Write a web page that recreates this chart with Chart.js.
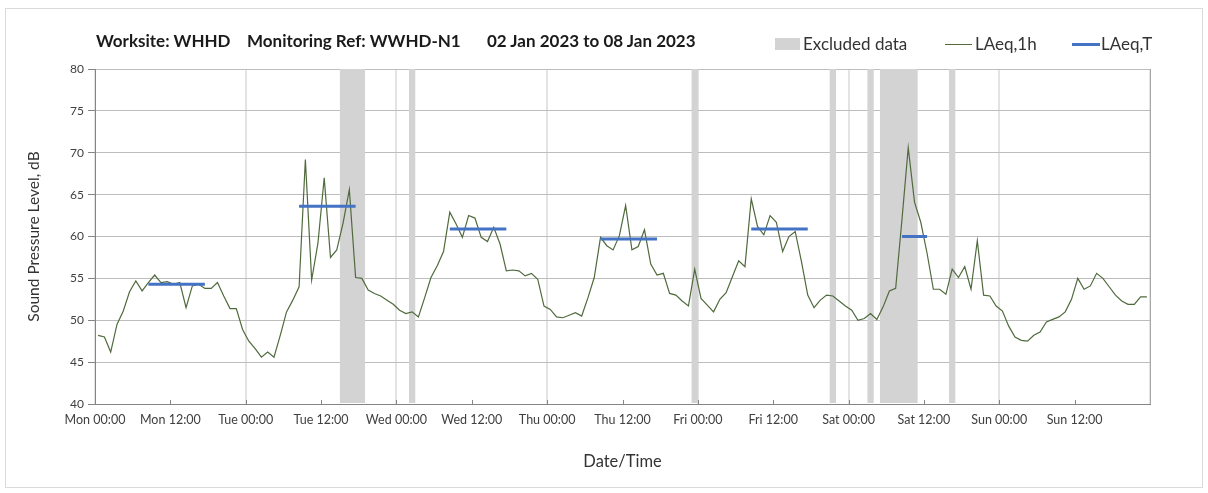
<!DOCTYPE html>
<html>
<head>
<meta charset="utf-8">
<title>WHHD noise monitoring</title>
<script src="https://cdn.jsdelivr.net/npm/chart.js@4.4.1/dist/chart.umd.min.js"></script>
<style>
  html, body { margin: 0; padding: 0; background: #fff; }
  body { width: 1208px; height: 493px; position: relative; overflow: hidden; font-family: Lato, "Open Sans", sans-serif; }
  #frame { position: absolute; left: 5px; top: 8px; width: 1196px; height: 478px; border: 1px solid #dadada; }
  canvas { position: absolute; left: 0; top: 0; }
  .ttl { position: absolute; top: 31px; font-weight: bold; font-size: 17px; line-height: 19px; color: #1a1a1a; white-space: nowrap; }
  .lg { position: absolute; top: 34px; font-size: 17px; line-height: 19px; color: #333; white-space: nowrap; }
  .sw { position: absolute; }
</style>
</head>
<body>
<div id="frame"></div>
<canvas id="chart" width="1208" height="493"></canvas>

<div class="ttl" style="left:96px">Worksite: WHHD</div>
<div class="ttl" style="left:247px">Monitoring Ref: WWHD-N1</div>
<div class="ttl" style="left:487px">02 Jan 2023 to 08 Jan 2023</div>

<div class="sw" style="left:775px; top:38px; width:25px; height:12px; background:#d3d3d3"></div>
<div class="lg" style="left:803px">Excluded data</div>
<div class="sw" style="left:945px; top:44px; width:27px; height:1px; background:#4f6a3c"></div>
<div class="lg" style="left:975px">LAeq,1h</div>
<div class="sw" style="left:1072px; top:43px; width:28px; height:3px; background:#4472c4"></div>
<div class="lg" style="left:1101px">LAeq,T</div>

<script>
// hourly LAeq,1h values, one array per day (00:00 .. 23:00 hour)
const monValues = [48.2, 48.0, 46.2, 49.5, 51.1, 53.4, 54.7, 53.5, 54.5, 55.4, 54.5, 54.6,
                   54.3, 54.5, 51.5, 54.1, 54.3, 53.8, 53.8, 54.5, 52.9, 51.4, 51.4, 48.9];
const tueValues = [47.5, 46.6, 45.6, 46.2, 45.6, 48.2, 51.0, 52.4, 54.0, 69.2, 54.8, 59.2,
                   67.0, 57.5, 58.4, 61.6, 65.6, 55.1, 55.0, 53.6, 53.2, 52.9, 52.4, 51.9];
const wedValues = [51.2, 50.8, 51.0, 50.4, 52.7, 55.1, 56.5, 58.2, 62.9, 61.5, 59.9, 62.5,
                   62.2, 59.9, 59.4, 61.1, 59.1, 55.9, 56.0, 55.9, 55.3, 55.6, 54.9, 51.7];
const thuValues = [51.3, 50.4, 50.3, 50.6, 50.9, 50.5, 52.7, 55.1, 59.9, 58.9, 58.4, 60.1,
                   63.7, 58.4, 58.8, 60.8, 56.7, 55.4, 55.6, 53.2, 53.0, 52.3, 51.7, 56.1];
const friValues = [52.6, 51.8, 51.0, 52.5, 53.3, 55.2, 57.1, 56.4, 64.5, 61.2, 60.2, 62.5,
                   61.7, 58.2, 60.0, 60.6, 57.0, 53.0, 51.5, 52.4, 53.0, 52.9, 52.3, 51.7];
const satValues = [51.2, 50.0, 50.2, 50.8, 50.1, 51.6, 53.5, 53.8, 62.0, 70.6, 64.1, 61.7,
                   58.0, 53.7, 53.7, 53.1, 56.1, 55.1, 56.4, 53.7, 59.5, 53.0, 52.9, 51.7];
const sunValues = [51.1, 49.3, 48.0, 47.6, 47.5, 48.2, 48.6, 49.8, 50.1, 50.4, 51.0, 52.5,
                   55.0, 53.7, 54.1, 55.6, 55.0, 54.0, 53.0, 52.3, 51.9, 51.9, 52.8, 52.8];

const tickLabels = ["Mon 00:00", "Mon 12:00", "Tue 00:00", "Tue 12:00", "Wed 00:00", "Wed 12:00",
                    "Thu 00:00", "Thu 12:00", "Fri 00:00", "Fri 12:00", "Sat 00:00", "Sat 12:00",
                    "Sun 00:00", "Sun 12:00"];

// excluded periods, hours from Mon 00:00
const excludedFrom = [39, 50, 95, 117, 123, 125, 136];
const excludedTo   = [43, 51, 96, 118, 124, 131, 137];

// LAeq,T periods (day index, hour-of-day from/to)
const periodDay   = [0, 1, 2, 3, 4, 5];
const periodFrom  = [8.5, 8.5, 8.5, 8.5, 8.5, 8.5];
const periodTo    = [17.5, 17.5, 17.5, 17.5, 17.5, 12.5];
const periodLAeqT = [54.3, 63.6, 60.9, 59.7, 60.9, 60.0];

const hourly = [].concat(monValues, tueValues, wedValues, thuValues, friValues, satValues, sunValues);
const hourlyPoints = hourly.map((v, i) => ({ x: i + 0.5, y: v }));

const periodPoints = [];
periodDay.forEach((d, i) => {
  periodPoints.push({ x: d * 24 + periodFrom[i], y: periodLAeqT[i] });
  periodPoints.push({ x: d * 24 + periodTo[i], y: periodLAeqT[i] });
  periodPoints.push({ x: d * 24 + periodTo[i], y: null });
});

const axisGrey = "#858585";
const fontFamily = "Lato, 'Open Sans', sans-serif";

const excludedBands = {
  id: "excludedBands",
  beforeDatasetsDraw(chart) {
    const { ctx, chartArea, scales: { x } } = chart;
    ctx.save();
    ctx.fillStyle = "#d3d3d3";
    excludedFrom.forEach((from, i) => {
      const x0 = x.getPixelForValue(from);
      const x1 = x.getPixelForValue(excludedTo[i]);
      ctx.fillRect(x0, chartArea.top, x1 - x0, chartArea.bottom - chartArea.top - 1);
    });
    ctx.restore();
  },
  afterDatasetsDraw(chart) {
    const { ctx, chartArea, scales: { x } } = chart;
    ctx.save();
    ctx.strokeStyle = axisGrey;
    ctx.lineWidth = 1;
    // small inward ticks every 12 hours
    for (let h = 12; h < 168; h += 12) {
      const px = Math.round(x.getPixelForValue(h)) + 0.5;
      ctx.beginPath();
      ctx.moveTo(px, chartArea.bottom);
      ctx.lineTo(px, chartArea.bottom - 4);
      ctx.stroke();
    }
    // right hand frame line
    ctx.strokeStyle = "#a8a8a8";
    const rx = Math.round(chartArea.right) + 0.5;
    ctx.beginPath();
    ctx.moveTo(rx, chartArea.top);
    ctx.lineTo(rx, chartArea.bottom);
    ctx.stroke();
    ctx.restore();
  }
};

new Chart(document.getElementById("chart"), {
  type: "line",
  data: {
    datasets: [
      {
        label: "LAeq,T",
        data: periodPoints,
        borderColor: "#4472c4",
        borderWidth: 3,
        pointRadius: 0,
        spanGaps: false,
        order: 0
      },
      {
        label: "LAeq,1h",
        data: hourlyPoints,
        borderColor: "#4f6a3c",
        borderWidth: 1.2,
        pointRadius: 0,
        tension: 0,
        order: 1
      }
    ]
  },
  options: {
    responsive: false,
    animation: false,
    layout: { padding: { left: 0, top: 69, right: 58, bottom: 0 } },
    plugins: {
      legend: { display: false },
      tooltip: { enabled: false }
    },
    scales: {
      x: {
        type: "linear",
        min: 0,
        max: 168,
        afterFit: s => { s.height = 89; },
        ticks: {
          stepSize: 12,
          autoSkip: false,
          maxRotation: 0,
          padding: 8,
          color: "#404040",
          font: { family: fontFamily, size: 12.5 },
          callback: v => tickLabels[v / 12] || ""
        },
        grid: {
          drawTicks: false,
          color: c => (c.tick && c.tick.value % 24 === 0) ? "#e3e3e3" : "rgba(0,0,0,0)",
          lineWidth: c => (c.tick && c.tick.value % 24 === 0) ? 2 : 0
        },
        border: { color: axisGrey },
        title: {
          display: true,
          text: "Date/Time",
          color: "#333",
          font: { family: fontFamily, size: 16.5 },
          padding: { top: 0, bottom: 21 }
        }
      },
      y: {
        min: 40,
        max: 80,
        afterFit: s => { s.width = 95; },
        ticks: {
          stepSize: 5,
          padding: 4,
          color: "#404040",
          font: { family: fontFamily, size: 12 }
        },
        grid: {
          color: "#bdbdbd",
          tickColor: axisGrey,
          tickLength: 7
        },
        border: { color: axisGrey },
        title: {
          display: true,
          text: "Sound Pressure Level, dB",
          color: "#333",
          font: { family: fontFamily, size: 15.5 },
          padding: { top: 25, bottom: 0 }
        }
      }
    }
  },
  plugins: [excludedBands]
});
</script>
</body>
</html>
